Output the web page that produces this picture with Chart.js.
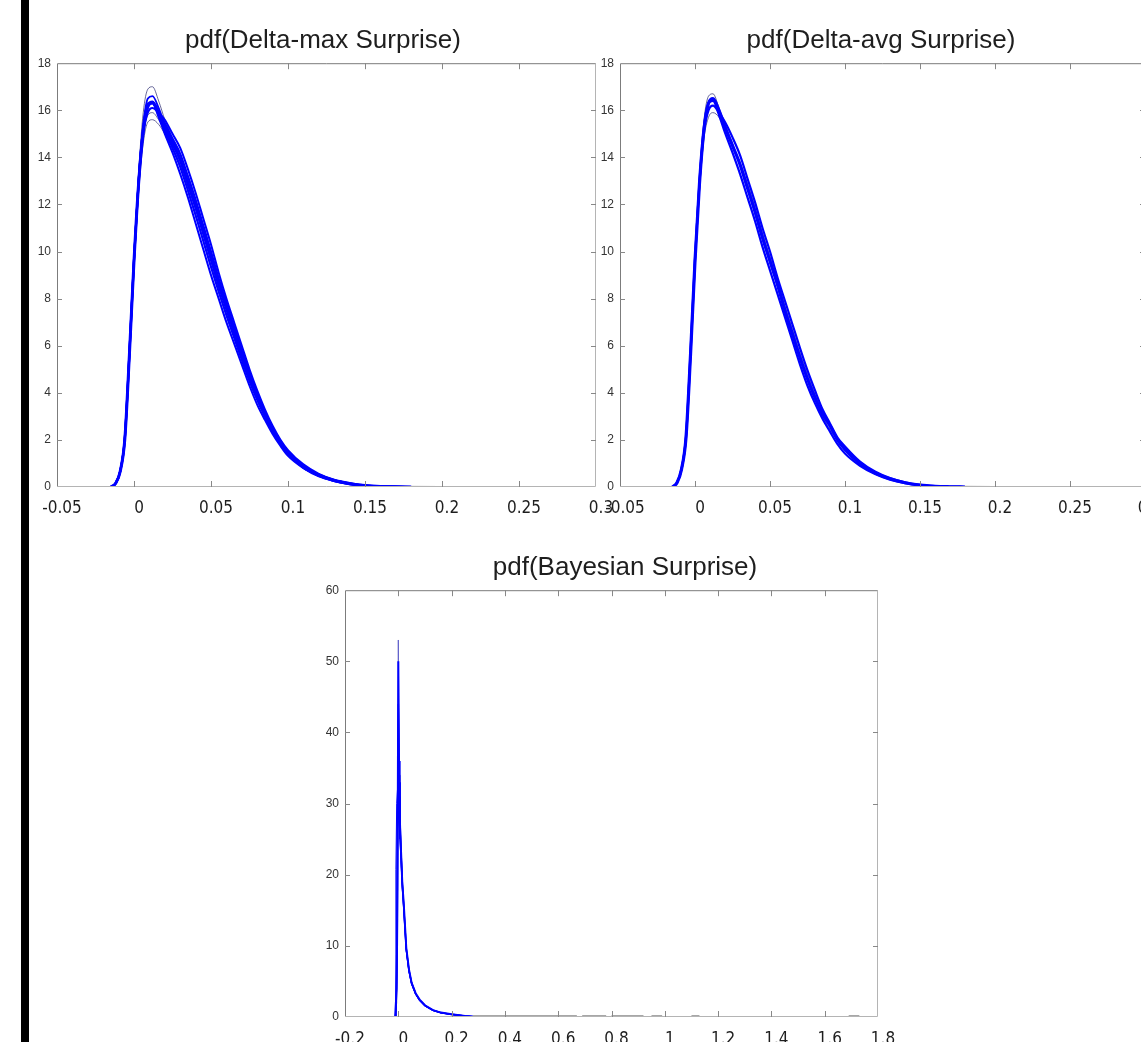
<!DOCTYPE html>
<html>
<head>
<meta charset="utf-8">
<script src="https://cdn.jsdelivr.net/npm/chart.js@4.4.1/dist/chart.umd.min.js"></script>
<style>
  html, body { margin: 0; padding: 0; background: #fff; overflow: hidden; }
  body { width: 1141px; height: 1042px; position: relative; }
  .bar { position: absolute; left: 21px; top: 0; width: 8px; height: 1042px; background: #000; }
  canvas { position: absolute; }
</style>
</head>
<body>
<div class="bar"></div>
<canvas id="dmax" width="586" height="520" style="left:30px;top:0px"></canvas>
<canvas id="davg" width="582" height="520" style="left:590px;top:0px"></canvas>
<canvas id="bayes" width="630" height="522" style="left:310px;top:520px"></canvas>
<script>
// tick values and labels
const xTickVals1 = [-0.05, 0, 0.05, 0.1, 0.15, 0.2, 0.25, 0.3];
const xTickLabels1 = ['-0.05', '0', '0.05', '0.1', '0.15', '0.2', '0.25', '0.3'];
const yTickVals1 = [0, 2, 4, 6, 8, 10, 12, 14, 16, 18];
const xTickVals3 = [-0.2, 0, 0.2, 0.4, 0.6, 0.8, 1, 1.2, 1.4, 1.6, 1.8];
const xTickLabels3 = ['-0.2', '0', '0.2', '0.4', '0.6', '0.8', '1', '1.2', '1.4', '1.6', '1.8'];
const yTickVals3 = [0, 10, 20, 30, 40, 50, 60];

// pdf(Delta-max Surprise): several runs on a shared x grid
const dmaxX = [-0.015, -0.012, -0.009, -0.006, -0.003, 0, 0.003, 0.006, 0.009, 0.012, 0.016, 0.02, 0.025, 0.03, 0.035, 0.04, 0.045, 0.05, 0.055, 0.06, 0.065, 0.07, 0.075, 0.08, 0.085, 0.09, 0.095, 0.1, 0.11, 0.12, 0.13, 0.14, 0.15, 0.16, 0.17, 0.18];
const dmaxMean = [0, 0.15, 0.65, 2.0, 5.6, 9.6, 12.9, 15.1, 16.2, 16.35, 15.9, 15.3, 14.6, 13.9, 12.9, 11.9, 10.8, 9.7, 8.6, 7.6, 6.6, 5.6, 4.7, 3.85, 3.1, 2.45, 1.9, 1.45, 0.85, 0.5, 0.27, 0.14, 0.06, 0.02, 0.01, 0];
const dmaxRunA = [0, 0.15, 0.7, 2.1, 5.8, 9.9, 13.4, 15.9, 16.9, 17.0, 16.4, 15.6, 14.8, 14.0, 13.0, 11.9, 10.8, 9.6, 8.5, 7.5, 6.5, 5.5, 4.6, 3.8, 3.0, 2.4, 1.85, 1.4, 0.8, 0.5, 0.28, 0.15, 0.07, 0.03, 0.01, 0];
const dmaxRunB = [0, 0.12, 0.6, 1.9, 5.4, 9.3, 12.5, 14.6, 15.5, 15.6, 15.4, 15.0, 14.4, 13.7, 12.8, 11.8, 10.8, 9.7, 8.7, 7.7, 6.7, 5.7, 4.8, 3.95, 3.2, 2.5, 1.95, 1.5, 0.9, 0.52, 0.3, 0.15, 0.06, 0.02, 0.01, 0];
const dmaxRunC = [0, 0.15, 0.65, 2.0, 5.6, 9.6, 12.9, 15.0, 15.9, 16.1, 15.9, 15.6, 15.0, 14.4, 13.5, 12.5, 11.4, 10.3, 9.1, 8.0, 7.0, 6.0, 5.0, 4.1, 3.3, 2.6, 2.02, 1.57, 0.96, 0.56, 0.31, 0.17, 0.07, 0.03, 0.01, 0];
const dmaxRunD = [0, 0.16, 0.68, 2.1, 5.7, 9.7, 13.0, 15.3, 16.3, 16.3, 15.7, 15.0, 14.2, 13.3, 12.3, 11.2, 10.1, 9.0, 8.0, 7.0, 6.1, 5.2, 4.3, 3.5, 2.85, 2.25, 1.75, 1.32, 0.8, 0.45, 0.25, 0.12, 0.05, 0.02, 0.01, 0];
const dmaxRunE = [0, 0.15, 0.66, 2.05, 5.65, 9.7, 13.1, 15.4, 16.5, 16.6, 16.1, 15.4, 14.7, 13.9, 13.0, 12.0, 10.9, 9.8, 8.7, 7.6, 6.6, 5.6, 4.7, 3.9, 3.15, 2.5, 1.95, 1.5, 0.88, 0.52, 0.29, 0.15, 0.06, 0.02, 0.01, 0];
const dmaxRunF = [0, 0.14, 0.62, 1.95, 5.5, 9.45, 12.7, 14.9, 15.8, 15.9, 15.6, 15.2, 14.6, 13.8, 12.9, 11.9, 10.9, 9.8, 8.7, 7.7, 6.7, 5.7, 4.8, 3.9, 3.15, 2.45, 1.9, 1.45, 0.88, 0.5, 0.3, 0.16, 0.07, 0.03, 0.01, 0];
const dmaxRunG = [0, 0.15, 0.65, 2.0, 5.6, 9.6, 12.9, 15.1, 16.1, 16.3, 15.9, 15.45, 14.8, 14.15, 13.2, 12.2, 11.1, 10.0, 8.85, 7.8, 6.8, 5.8, 4.85, 4.0, 3.2, 2.52, 1.96, 1.5, 0.9, 0.53, 0.29, 0.15, 0.06, 0.02, 0.01, 0];
const dmaxRunH = [0, 0.15, 0.66, 2.05, 5.65, 9.65, 12.95, 15.2, 16.25, 16.3, 15.8, 15.15, 14.4, 13.6, 12.6, 11.55, 10.45, 9.35, 8.3, 7.3, 6.35, 5.4, 4.5, 3.7, 2.98, 2.35, 1.82, 1.4, 0.82, 0.48, 0.26, 0.13, 0.05, 0.02, 0.01, 0];
const dmaxTailX = [0.16, 0.2, 0.235];
const dmaxTailY = [0.02, 0.01, 0];

// pdf(Delta-avg Surprise)
const davgX = dmaxX;
const davgMean = [0, 0.18, 0.75, 2.1, 5.6, 9.6, 12.9, 15.2, 16.3, 16.5, 16.0, 15.3, 14.5, 13.7, 12.7, 11.7, 10.6, 9.6, 8.6, 7.5, 6.5, 5.5, 4.6, 3.8, 3.1, 2.6, 2.0, 1.6, 1.0, 0.6, 0.35, 0.18, 0.08, 0.03, 0.01, 0];
const davgRunA = [0, 0.18, 0.76, 2.15, 5.7, 9.8, 13.2, 15.6, 16.6, 16.7, 16.1, 15.4, 14.6, 13.7, 12.7, 11.6, 10.5, 9.5, 8.5, 7.4, 6.4, 5.4, 4.5, 3.7, 3.0, 2.45, 1.95, 1.55, 0.95, 0.58, 0.33, 0.17, 0.07, 0.03, 0.01, 0];
const davgRunB = [0, 0.17, 0.72, 2.05, 5.5, 9.4, 12.6, 14.8, 15.7, 15.9, 15.7, 15.2, 14.5, 13.8, 12.9, 11.9, 10.8, 9.8, 8.8, 7.7, 6.7, 5.7, 4.8, 3.95, 3.2, 2.6, 2.05, 1.65, 1.05, 0.62, 0.36, 0.19, 0.08, 0.03, 0.01, 0];
const davgRunC = [0, 0.18, 0.74, 2.1, 5.6, 9.6, 12.9, 15.1, 16.0, 16.2, 15.9, 15.5, 14.85, 14.1, 13.1, 12.1, 11.0, 10.0, 8.9, 7.9, 6.9, 5.9, 4.95, 4.1, 3.3, 2.7, 2.1, 1.72, 1.08, 0.66, 0.38, 0.2, 0.09, 0.04, 0.01, 0];
const davgRunD = [0, 0.19, 0.77, 2.15, 5.7, 9.7, 13.0, 15.3, 16.3, 16.4, 15.8, 15.05, 14.2, 13.3, 12.3, 11.3, 10.2, 9.2, 8.2, 7.2, 6.2, 5.2, 4.3, 3.55, 2.9, 2.35, 1.82, 1.42, 0.9, 0.55, 0.31, 0.16, 0.07, 0.03, 0.01, 0];
const davgTailX = [0.17, 0.2, 0.225];
const davgTailY = [0.02, 0.01, 0];

// pdf(Bayesian Surprise)
const bayesX = [-0.015, -0.012, -0.009, -0.006, -0.003, 0, 0.003, 0.006, 0.01, 0.015, 0.02, 0.03, 0.04, 0.05, 0.065, 0.08, 0.1, 0.13, 0.16, 0.2, 0.25, 0.28];
const bayesRunA = [0, 0, 0, 2, 12, 53, 34, 28, 24, 19, 16, 9.4, 6.5, 4.7, 3.2, 2.35, 1.6, 0.94, 0.6, 0.36, 0.14, 0.05];
const bayesRunB = [0, 0, 1, 6, 22, 44, 36, 29, 23.5, 19, 15.8, 9.5, 6.6, 4.8, 3.3, 2.4, 1.6, 0.95, 0.6, 0.37, 0.15, 0.05];
const bayesRunC = [0, 0, 20.7, 30, 32, 30, 27, 25, 22, 18, 15.5, 9.3, 6.4, 4.6, 3.2, 2.3, 1.55, 0.92, 0.58, 0.35, 0.14, 0.05];
const bayesRunD = [0, 0, 0.5, 8, 28, 36, 31, 27, 23, 18.5, 15.6, 9.5, 6.5, 4.7, 3.25, 2.35, 1.6, 0.94, 0.6, 0.36, 0.14, 0.05];
const bayesRunE = [0, 0, 0, 4, 18, 50, 33, 27, 23.5, 18.8, 16.2, 9.7, 6.7, 4.8, 3.35, 2.45, 1.65, 0.97, 0.62, 0.38, 0.15, 0.06];
// sparse far tail, gaps as null
const bayesTailX = [0.28, 0.67, 0.675, 0.69, 0.78, 0.785, 0.8, 0.92, 0.925, 0.95, 0.99, 0.995, 1.1, 1.13, 1.135, 1.69, 1.73];
const bayesTailY = [0.15, 0.15, null, 0.15, 0.15, null, 0.15, 0.15, null, 0.15, 0.15, null, 0.15, 0.15, null, 0.15, 0.15];

const BLUE = '#0000ff';
const DARK = 'rgba(55, 55, 120, 0.75)';
const GREY = '#8a8a8a';

function series( xs, ys, color, width, smooth ) {
	return {
		yAxisID: 'y',
		data: xs.map( ( x, i ) => ( { x: x, y: ys[ i ] } ) ),
		borderColor: color,
		borderWidth: width,
		pointRadius: 0,
		fill: false,
		spanGaps: false,
		cubicInterpolationMode: smooth ? 'monotone' : 'default',
		tension: 0,
	};
}

// box with inward ticks on all four sides
const framePlugin = {
	id: 'frame',
	afterDatasetsDraw( chart ) {
		const { ctx, chartArea: a, scales } = chart;
		const xs = scales.x;
		const ys = scales.y;
		ctx.save();
		ctx.lineWidth = 1;
		ctx.strokeStyle = '#7c7c7c';
		ctx.beginPath();
		ctx.moveTo( a.left + 0.5, a.bottom );
		ctx.lineTo( a.left + 0.5, a.top + 0.5 );
		ctx.lineTo( a.right, a.top + 0.5 );
		ctx.stroke();
		ctx.strokeStyle = '#b4b4b4';
		ctx.beginPath();
		ctx.moveTo( a.right - 0.5, a.top );
		ctx.lineTo( a.right - 0.5, a.bottom - 0.5 );
		ctx.lineTo( a.left, a.bottom - 0.5 );
		ctx.stroke();

		ctx.strokeStyle = '#888';
		ctx.beginPath();
		xs.ticks.forEach( ( t ) => {
			const px = Math.round( xs.getPixelForValue( t.value ) ) + 0.5;
			if ( px <= a.left + 2 || px >= a.right - 2 ) {
				return;
			}
			ctx.moveTo( px, a.bottom );
			ctx.lineTo( px, a.bottom - 6 );
			ctx.moveTo( px, a.top );
			ctx.lineTo( px, a.top + 6 );
		} );
		ys.ticks.forEach( ( t ) => {
			const py = Math.round( ys.getPixelForValue( t.value ) ) + 0.5;
			if ( py <= a.top + 2 || py >= a.bottom - 2 ) {
				return;
			}
			ctx.moveTo( a.left, py );
			ctx.lineTo( a.left + 5, py );
			ctx.moveTo( a.right, py );
			ctx.lineTo( a.right - 5, py );
		} );
		ctx.stroke();
		ctx.restore();
	},
};

function makeChart( id, o ) {
	return new Chart( document.getElementById( id ), {
		type: 'line',
		data: { datasets: o.datasets },
		options: {
			responsive: false,
			animation: false,
			events: [],
			layout: { padding: { top: o.padTop, right: 0, bottom: 0, left: 0 } },
			plugins: {
				legend: { display: false },
				tooltip: { enabled: false },
				title: {
					display: true,
					text: o.title,
					color: '#1e1e1e',
					font: { family: "'Liberation Sans', Arial, sans-serif", size: 26, weight: 'normal', lineHeight: 1.2 },
					padding: { top: 0, bottom: o.titleGap },
				},
			},
			scales: {
				x: {
					type: 'linear',
					min: o.xTicks[ 0 ],
					max: o.xTicks[ o.xTicks.length - 1 ],
					afterBuildTicks: ( s ) => {
						s.ticks = o.xTicks.map( ( v ) => ( { value: v } ) );
					},
					afterFit: ( s ) => {
						s.height = o.xAxisH;
						s.paddingLeft = 0;
						s.paddingRight = 0;
					},
					grid: { display: false },
					border: { display: false },
					ticks: {
						autoSkip: false,
						maxRotation: 0,
						padding: o.xPad,
						labelOffset: 5,
						color: '#1e1e1e',
						font: { family: "'Liberation Sans Narrow', 'DejaVu Sans Condensed', 'Liberation Sans', sans-serif", size: 17 },
						callback: ( v, i ) => o.xLabels[ i ],
					},
				},
				y: {
					position: 'left',
					min: o.yTicks[ 0 ],
					max: o.yTicks[ o.yTicks.length - 1 ],
					afterBuildTicks: ( s ) => {
						s.ticks = o.yTicks.map( ( v ) => ( { value: v } ) );
					},
					afterFit: ( s ) => {
						s.width = o.yAxisW;
						s.paddingTop = 0;
						s.paddingBottom = 0;
					},
					grid: { display: false, drawTicks: false },
					border: { display: false },
					ticks: {
						padding: 6,
						color: '#333',
						font: { family: "'Liberation Sans', Arial, sans-serif", size: 12 },
						callback: ( v ) => String( v ),
					},
				},
				// empty right-hand strip so the title centres where the original one sits
				yr: {
					position: 'right',
					min: 0,
					max: 1,
					afterFit: ( s ) => {
						s.width = o.rightW;
						s.paddingTop = 0;
						s.paddingBottom = 0;
					},
					grid: { display: false },
					border: { display: false },
					ticks: { display: false },
				},
			},
		},
		plugins: [ framePlugin ],
	} );
}

makeChart( 'dmax', {
	title: 'pdf(Delta-max Surprise)',
	padTop: 25,
	titleGap: 7,
	xAxisH: 33,
	yAxisW: 27,
	rightW: 20,
	xPad: 3,
	xTicks: xTickVals1,
	xLabels: xTickLabels1,
	yTicks: yTickVals1,
	datasets: [
		series( dmaxX, dmaxRunC, BLUE, 2, true ),
		series( dmaxX, dmaxRunD, BLUE, 2, true ),
		series( dmaxX, dmaxRunG, BLUE, 2.2, true ),
		series( dmaxX, dmaxRunH, BLUE, 2.2, true ),
		series( dmaxX, dmaxRunE, BLUE, 1.8, true ),
		series( dmaxX, dmaxMean, BLUE, 3, true ),
		series( dmaxX, dmaxRunA, DARK, 1, true ),
		series( dmaxX, dmaxRunB, DARK, 1, true ),
		series( dmaxX, dmaxRunF, DARK, 1, true ),
		series( dmaxTailX, dmaxTailY, GREY, 1.5, false ),
	],
} );

makeChart( 'davg', {
	title: 'pdf(Delta-avg Surprise)',
	padTop: 25,
	titleGap: 7,
	xAxisH: 33,
	yAxisW: 30,
	rightW: 27,
	xPad: 3,
	xTicks: xTickVals1,
	xLabels: xTickLabels1,
	yTicks: yTickVals1,
	datasets: [
		series( davgX, davgRunC, BLUE, 2.2, true ),
		series( davgX, davgRunD, BLUE, 2.2, true ),
		series( davgX, davgMean, BLUE, 3.2, true ),
		series( davgX, davgRunA, DARK, 1, true ),
		series( davgX, davgRunB, DARK, 1, true ),
		series( davgTailX, davgTailY, GREY, 1.5, false ),
	],
} );

makeChart( 'bayes', {
	title: 'pdf(Bayesian Surprise)',
	padTop: 32,
	titleGap: 7,
	xAxisH: 25,
	yAxisW: 35,
	rightW: 62,
	xPad: 4,
	xTicks: xTickVals3,
	xLabels: xTickLabels3,
	yTicks: yTickVals3,
	datasets: [
		series( bayesTailX, bayesTailY, GREY, 1.5, false ),
		series( bayesX, bayesRunC, BLUE, 1, false ),
		series( bayesX, bayesRunD, BLUE, 1.5, false ),
		series( bayesX, bayesRunB, BLUE, 1.5, false ),
		series( bayesX, bayesRunE, BLUE, 2, false ),
		series( bayesX, bayesRunA, 'rgba(90, 90, 200, 0.9)', 1, false ),
	],
} );
</script>
</body>
</html>
